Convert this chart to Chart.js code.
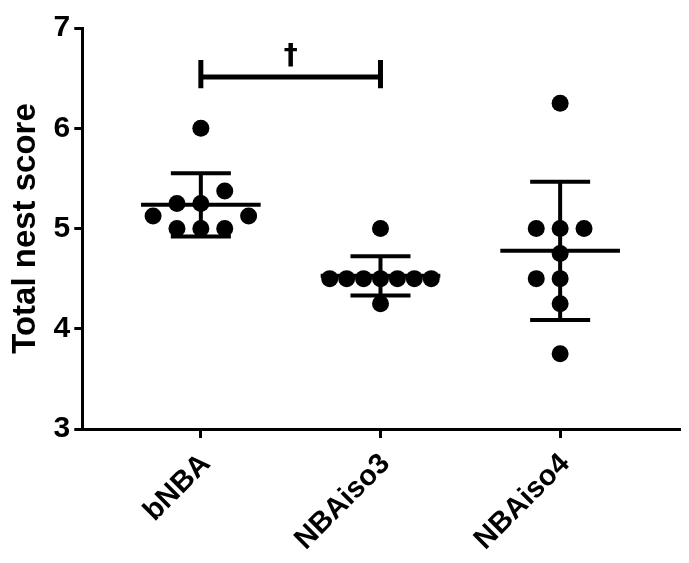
<!DOCTYPE html>
<html>
<head>
<meta charset="utf-8">
<script src="https://cdn.jsdelivr.net/npm/chart.js@4.4.0/dist/chart.umd.min.js"></script>
<style>
    html, body { margin: 0; padding: 0; background: #fff; }
    #wrap { width: 689px; height: 563px; }
</style>
</head>
<body>
<div id="wrap"><canvas id="graficoNest"></canvas></div>
<script>

// dados
const grupos = ["bNBA", "NBAiso3", "NBAiso4"];
const bNBA = [6, 5.375, 5.25, 5.25, 5.125, 5.125, 5, 5, 5];
const NBAiso3 = [5, 4.5, 4.5, 4.5, 4.5, 4.5, 4.5, 4.5, 4.25];
const NBAiso4 = [6.25, 5, 5, 5, 4.75, 4.5, 4.5, 4.25, 3.75];
const yTicks = [3, 4, 5, 6, 7];

// comparação significativa (bNBA vs NBAiso3)
const sigPar = [0, 1];
const sigNivel = 6.51;
const sigTexto = "†";

const valores = [bNBA, NBAiso3, NBAiso4];
const FONTE = "'Liberation Sans', Arial, sans-serif";

// espalha os pontos iguais lado a lado (tipo beeswarm)
const PX_X = 180.5, PX_Y = 100, PASSO = 12, DIST = 22, LARG_MAX = 51;
function espalhar(vals, centro) {
    const ordenados = [...vals].sort((a, b) => a - b);
    const colocados = [];
    ordenados.forEach(v => {
        for (let k = 0; k < 40; k++) {
            const off = (k % 2 === 1 ? -1 : 1) * Math.ceil(k / 2) * PASSO;
            const bate = colocados.some(p => Math.hypot(p.off - off, (p.v - v) * PX_Y) < DIST);
            if (!bate) { colocados.push({ v, off }); break; }
        }
    });
    // coluna larga demais -> aperta
    const maior = Math.max(...colocados.map(p => Math.abs(p.off)));
    const fator = maior > LARG_MAX ? LARG_MAX / maior : 1;
    return colocados.map(p => ({ x: centro + p.off * fator / PX_X, y: p.v }));
}

function media(a) { return a.reduce((s, v) => s + v, 0) / a.length; }
function dp(a) {
    const m = media(a);
    return Math.sqrt(a.reduce((s, v) => s + (v - m) * (v - m), 0) / (a.length - 1));
}

function linha(pts, largura) {
    return {
        type: "scatter",
        data: pts,
        showLine: true,
        borderColor: "#000",
        borderWidth: largura,
        borderCapStyle: "butt",
        pointRadius: 0,
        fill: false,
    };
}

const datasets = [];

valores.forEach((vals, i) => {
    const m = media(vals), s = dp(vals);
    datasets.push(linha([{ x: i - 0.333, y: m }, { x: i + 0.333, y: m }], 4));
    datasets.push(linha([{ x: i, y: m - s }, { x: i, y: m + s }], 4));
    datasets.push(linha([{ x: i - 0.167, y: m + s }, { x: i + 0.167, y: m + s }], 4));
    datasets.push(linha([{ x: i - 0.167, y: m - s }, { x: i + 0.167, y: m - s }], 4));
    datasets.push({
        type: "scatter",
        data: espalhar(vals, i),
        backgroundColor: "#000",
        borderWidth: 0,
        pointRadius: 8.5,
    });
});

// barra de significância
datasets.push(linha([{ x: sigPar[0], y: sigNivel }, { x: sigPar[1], y: sigNivel }], 5));
sigPar.forEach(g => {
    datasets.push(linha([{ x: g, y: sigNivel - 0.11 }, { x: g, y: sigNivel + 0.17 }], 5));
});

const textoSig = {
    id: "textoSig",
    afterDatasetsDraw(chart) {
        const ctx = chart.ctx;
        const x = chart.scales.x.getPixelForValue((sigPar[0] + sigPar[1]) / 2);
        const y = chart.scales.y.getPixelForValue(sigNivel);
        ctx.save();
        ctx.fillStyle = "#000";
        ctx.font = "bold 28px 'DejaVu Sans', sans-serif";
        ctx.textAlign = "center";
        ctx.textBaseline = "alphabetic";
        ctx.fillText(sigTexto, x, y - 13);
        ctx.restore();
    },
};

const grafico = document.getElementById("graficoNest");

new Chart(grafico, {
    type: "scatter",
    data: { datasets },
    plugins: [textoSig],
    options: {
        responsive: true,
        maintainAspectRatio: false,
        animation: false,
        layout: { padding: { top: 28, right: 5, left: 6, bottom: 4 } },
        plugins: {
            legend: { display: false },
            tooltip: { enabled: false },
        },
        scales: {
            x: {
                type: "linear",
                min: -0.66,
                max: 2.67,
                afterBuildTicks: (axis) => { axis.ticks = grupos.map((g, i) => ({ value: i })); },
                afterFit: (axis) => { axis.height = 130; },
                ticks: {
                    callback: (v) => grupos[v],
                    color: "#000",
                    font: { family: FONTE, size: 29, weight: "bold" },
                    minRotation: 45,
                    maxRotation: 45,
                    padding: 9,
                    labelOffset: 5,
                },
                grid: { drawOnChartArea: false, drawTicks: true, tickLength: 9, tickWidth: 3, tickColor: "#000" },
                border: { display: true, color: "#000", width: 3 },
            },
            y: {
                min: 3,
                max: 7,
                afterBuildTicks: (axis) => { axis.ticks = yTicks.map(v => ({ value: v })); },
                ticks: {
                    color: "#000",
                    font: { family: FONTE, size: 30, weight: "bold" },
                    padding: 4,
                },
                grid: { drawOnChartArea: false, drawTicks: true, tickLength: 8, tickWidth: 3, tickColor: "#000" },
                border: { display: true, color: "#000", width: 3 },
                title: {
                    display: true,
                    text: "Total nest score",
                    color: "#000",
                    font: { family: FONTE, size: 33, weight: "bold" },
                    padding: { top: 0, bottom: 4 },
                },
            },
        },
    },
});
</script>
</body>
</html>
